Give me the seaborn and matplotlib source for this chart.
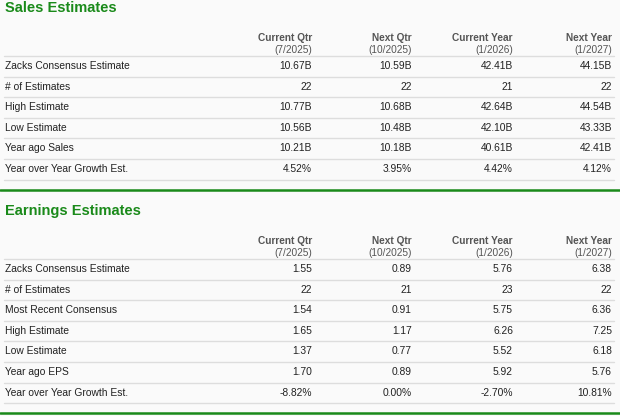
import matplotlib
matplotlib.use("Agg")
import matplotlib.pyplot as plt
import seaborn as sns

COLUMNS = ["Current Qtr", "Next Qtr", "Current Year", "Next Year"]
PERIODS = ["(7/2025)", "(10/2025)", "(1/2026)", "(1/2027)"]

SALES_ROWS = ["Zacks Consensus Estimate", "# of Estimates", "High Estimate",
              "Low Estimate", "Year ago Sales", "Year over Year Growth Est."]
SALES_CUR_QTR = ["10.67B", "22", "10.77B", "10.56B", "10.21B", "4.52%"]
SALES_NEXT_QTR = ["10.59B", "22", "10.68B", "10.48B", "10.18B", "3.95%"]
SALES_CUR_YEAR = ["42.41B", "21", "42.64B", "42.10B", "40.61B", "4.42%"]
SALES_NEXT_YEAR = ["44.15B", "22", "44.54B", "43.33B", "42.41B", "4.12%"]

EPS_ROWS = ["Zacks Consensus Estimate", "# of Estimates", "Most Recent Consensus",
            "High Estimate", "Low Estimate", "Year ago EPS", "Year over Year Growth Est."]
EPS_CUR_QTR = ["1.55", "22", "1.54", "1.65", "1.37", "1.70", "-8.82%"]
EPS_NEXT_QTR = ["0.89", "21", "0.91", "1.17", "0.77", "0.89", "0.00%"]
EPS_CUR_YEAR = ["5.76", "23", "5.75", "6.26", "5.52", "5.92", "-2.70%"]
EPS_NEXT_YEAR = ["6.38", "22", "6.36", "7.25", "6.18", "5.76", "10.81%"]

GREEN = "#1a8a1a"
TEXT = "#222222"
HEAD = "#555555"
RULE = "#dddddd"
COL_X = [312, 412, 513, 612]

sns.set_theme(style="white", font="Liberation Sans")
fig = plt.figure(figsize=(6.2, 4.16), dpi=100, facecolor="#fafafa")
ax = fig.add_axes([0, 0, 1, 1])
ax.set_facecolor("#fafafa")
ax.set_xlim(0, 620)
ax.set_ylim(416, 0)
ax.axis("off")


def draw_block(top, title, rows, cols):
    ax.text(5, top, title, color=GREEN, fontsize=10.5, fontweight="bold", va="center")
    for x, name, per in zip(COL_X, COLUMNS, PERIODS):
        ax.text(x, top + 30, name, ha="right", va="center", fontsize=7.3, color=HEAD, fontweight="bold")
        ax.text(x, top + 42, per, ha="right", va="center", fontsize=7.3, color=HEAD)
    ax.plot([4, 614], [top + 48, top + 48], color=RULE, lw=1)
    for i, label in enumerate(rows):
        y = top + 58 + i * 20.6
        ax.text(5, y, label, va="center", fontsize=7.4, color=TEXT)
        for x, col in zip(COL_X, cols):
            ax.text(x, y, col[i], ha="right", va="center", fontsize=7.4, color=TEXT)
        ax.plot([4, 614], [y + 10.5, y + 10.5], color=RULE, lw=1)


draw_block(8, "Sales Estimates", SALES_ROWS,
           [SALES_CUR_QTR, SALES_NEXT_QTR, SALES_CUR_YEAR, SALES_NEXT_YEAR])
ax.plot([0, 620], [190, 190], color=GREEN, lw=1.8)
draw_block(211, "Earnings Estimates", EPS_ROWS,
           [EPS_CUR_QTR, EPS_NEXT_QTR, EPS_CUR_YEAR, EPS_NEXT_YEAR])
ax.plot([0, 620], [413, 413], color=GREEN, lw=1.8)

fig.savefig("out.png", dpi=100, facecolor=fig.get_facecolor())
